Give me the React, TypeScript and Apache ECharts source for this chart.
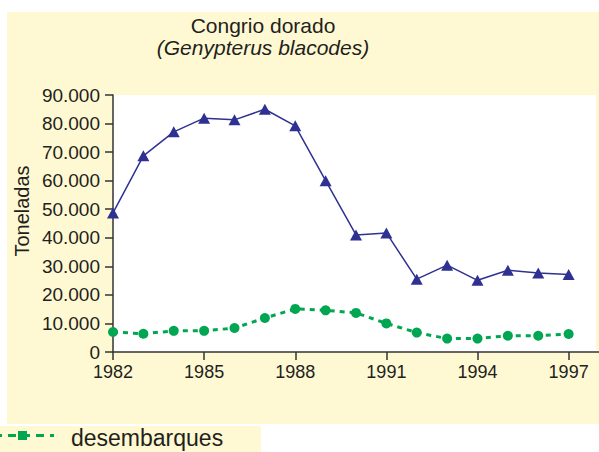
import React, { useEffect, useRef } from "react";
import * as echarts from "echarts";

const years = [1982, 1983, 1984, 1985, 1986, 1987, 1988, 1989, 1990, 1991, 1992, 1993, 1994, 1995, 1996, 1997];
const capturas = [48700, 68700, 77100, 81900, 81300, 85000, 79200, 60000, 41000, 41700, 25500, 30400, 25100, 28600, 27700, 27100];
const desembarques = [7000, 6400, 7400, 7400, 8400, 11900, 15100, 14600, 13700, 10000, 6800, 4700, 4700, 5700, 5700, 6300];
const xTickYears = [1982, 1985, 1988, 1991, 1994, 1997];

const FONT = "'Liberation Sans', Arial, Helvetica, sans-serif";
const CREAM = "#FFF9D3";
const TEXT = "#231F20";

function fmt(v: number): string {
  return String(v).replace(/\B(?=(\d{3})+(?!\d))/g, ".");
}

export default function App() {
  const ref = useRef<HTMLDivElement>(null);
  useEffect(() => {
    if (!ref.current) return;
    const chart = echarts.init(ref.current, undefined, { renderer: "svg" });
    chart.setOption({
      animation: false,
      backgroundColor: "#ffffff",
      title: {
        text: "Congrio dorado",
        subtext: "(Genypterus blacodes)",
        left: 263,
        top: 15,
        textAlign: "center",
        itemGap: 1,
        padding: 0,
        textStyle: { fontFamily: FONT, fontSize: 21, fontWeight: "normal", color: TEXT },
        subtextStyle: { fontFamily: FONT, fontSize: 21, fontStyle: "italic", color: TEXT },
      },
      graphic: [
        { type: "rect", z: -10, shape: { x: 7, y: 12, width: 592, height: 412 }, style: { fill: CREAM } },
        { type: "rect", z: -10, shape: { x: 0, y: 426, width: 261, height: 26 }, style: { fill: CREAM } },
        { type: "rect", z: 1, shape: { x: 596, y: 92, width: 3, height: 258 }, style: { fill: CREAM } },
        {
          type: "text",
          x: 22,
          y: 211,
          rotation: Math.PI / 2,
          style: { text: "Toneladas", align: "center", verticalAlign: "middle", fontFamily: FONT, fontSize: 20, fill: TEXT },
        },
        {
          type: "line",
          shape: { x1: -6, y1: 435.5, x2: 54, y2: 435.5 },
          style: { stroke: "#00A651", lineWidth: 3, lineDash: [8, 6] },
        },
        { type: "rect", shape: { x: 18, y: 431, width: 9, height: 9 }, style: { fill: "#00A651" } },
        {
          type: "text",
          x: 71,
          y: 438,
          style: { text: "desembarques", verticalAlign: "middle", fontFamily: FONT, fontSize: 23, fill: TEXT },
        },
      ],
      grid: {
        left: 113,
        right: 0,
        top: 95,
        bottom: 100,
        show: true,
        backgroundColor: "#ffffff",
        borderWidth: 0,
      },
      xAxis: {
        type: "value",
        min: 1982,
        max: 1998,
        splitLine: { show: false },
        axisLine: { show: true, lineStyle: { color: "#333", width: 1.5 } },
        axisTick: { show: true, inside: false, length: 8, lineStyle: { color: "#333", width: 1.5 }, customValues: xTickYears },
        axisLabel: {
          customValues: xTickYears,
          margin: 11,
          fontFamily: FONT,
          fontSize: 18,
          color: TEXT,
          formatter: (v: number) => String(v),
        },
      },
      yAxis: {
        type: "value",
        min: 0,
        max: 90000,
        interval: 10000,
        splitLine: { show: false },
        axisLine: { show: true, lineStyle: { color: "#333", width: 1.5 } },
        axisTick: { show: true, inside: false, length: 8, lineStyle: { color: "#333", width: 1.5 } },
        axisLabel: {
          margin: 13,
          fontFamily: FONT,
          fontSize: 19,
          color: TEXT,
          formatter: (v: number) => fmt(v),
        },
      },
      series: [
        {
          name: "capturas",
          type: "line",
          data: years.map((y, i) => [y, capturas[i]]),
          symbol: "triangle",
          symbolSize: [12, 11],
          lineStyle: { color: "#2E3192", width: 1.5 },
          itemStyle: { color: "#2E3192" },
        },
        {
          name: "desembarques",
          type: "line",
          data: years.map((y, i) => [y, desembarques[i]]),
          symbol: "circle",
          symbolSize: 10,
          lineStyle: { color: "#00A651", width: 3, type: [5, 5] },
          itemStyle: { color: "#00A651" },
        },
      ],
    });
    return () => chart.dispose();
  }, []);
  return <div ref={ref} style={{ position: "absolute", left: 0, top: 0, width: 599, height: 452 }} />;
}
